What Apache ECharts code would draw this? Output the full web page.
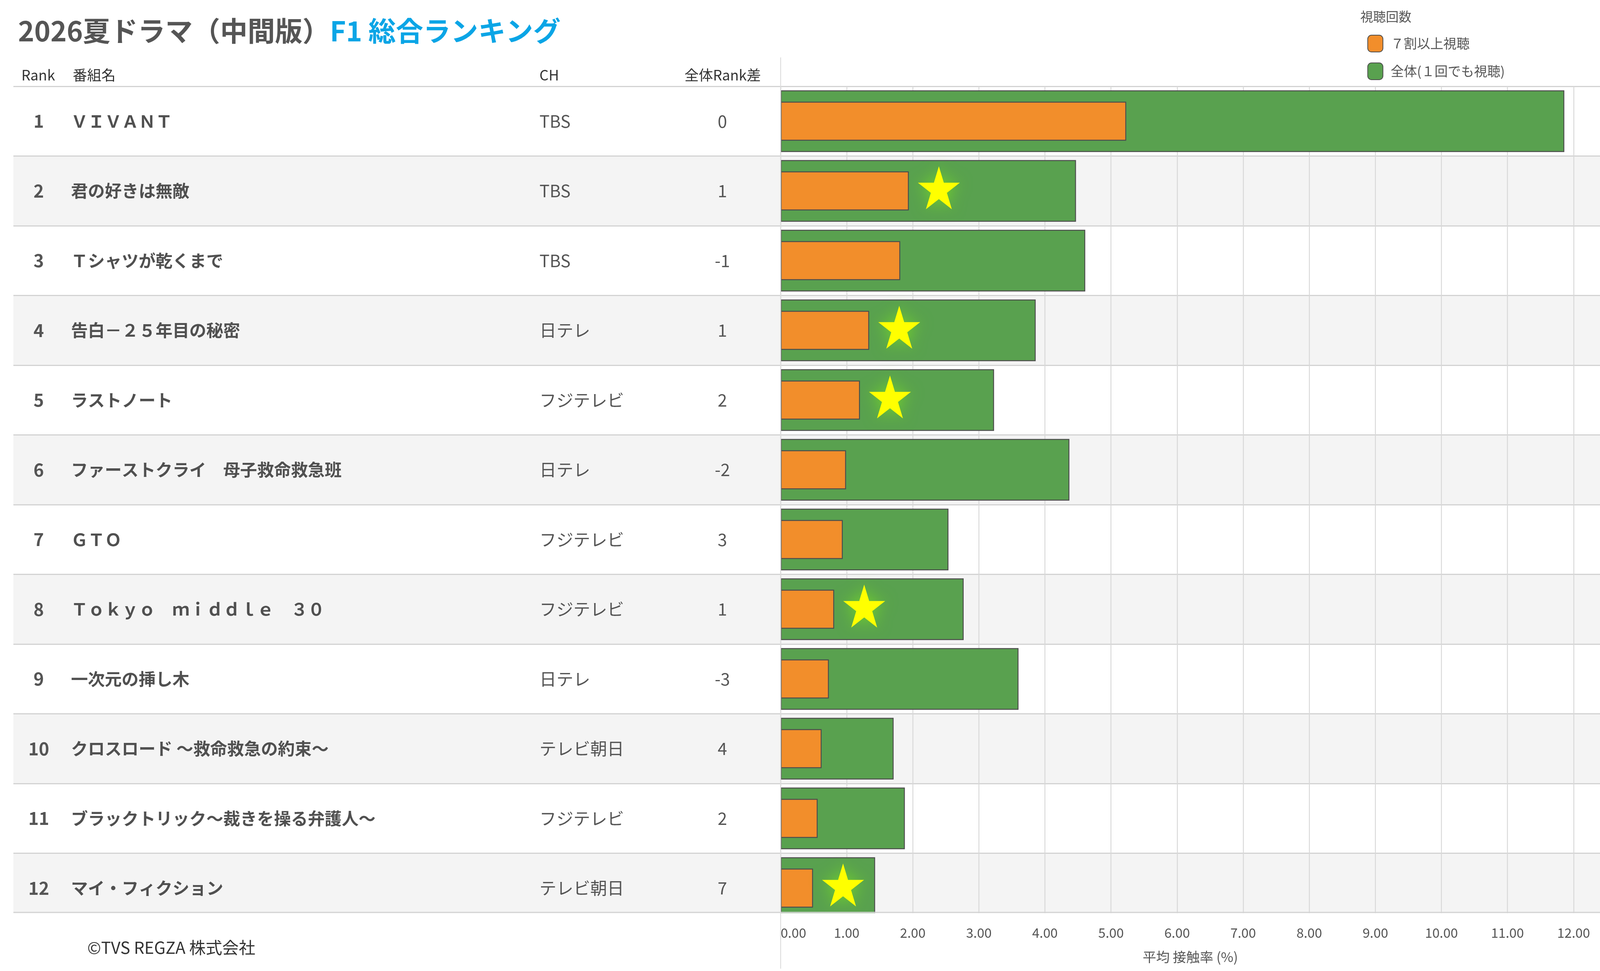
<!DOCTYPE html>
<html>
<head>
<meta charset="utf-8">
<script src="https://cdn.jsdelivr.net/npm/echarts@6/dist/echarts.min.js"></script>
<style>
html,body{margin:0;padding:0;background:#fff;overflow:hidden;}
#chart{width:100vw;height:100vh;}
</style>
</head>
<body>
<div id="chart"></div>
<script>
const ranks = ['1','2','3','4','5','6','7','8','9','10','11','12'];
const programs = ['ＶＩＶＡＮＴ','君の好きは無敵','Ｔシャツが乾くまで','告白－２５年目の秘密','ラストノート','ファーストクライ　母子救命救急班','ＧＴＯ','Ｔｏｋｙｏ　ｍｉｄｄｌｅ　３０','一次元の挿し木','クロスロード ～救命救急の約束～','ブラックトリック～裁きを操る弁護人～','マイ・フィクション'];
const channels = ['TBS','TBS','TBS','日テレ','フジテレビ','日テレ','フジテレビ','フジテレビ','日テレ','テレビ朝日','フジテレビ','テレビ朝日'];
const rankDiff = ['0','1','-1','1','2','-2','3','1','-3','4','2','7'];
const over70 = [5.23,1.94,1.81,1.34,1.20,0.99,0.94,0.81,0.73,0.62,0.56,0.49];
const total = [11.86,4.47,4.61,3.86,3.23,4.37,2.54,2.77,3.60,1.71,1.88,1.43];
const starFlags = [0,1,0,1,1,0,0,1,0,0,0,1];
const xMax = 12.4;
const seriesNames = ['７割以上視聴','全体(１回でも視聴)'];

const FONT = "'Noto Sans CJK JP', 'Noto Sans', sans-serif";
const starPath = 'path://M50,0 L61.23,34.55 L97.55,34.55 L68.17,55.9 L79.39,90.45 L50,69.1 L20.61,90.45 L31.83,55.9 L2.45,34.55 L38.77,34.55 Z';

const starData = [];
starFlags.forEach((f, i) => { if (f) starData.push([over70[i], i]); });

// layout designed on a 4419x2486 canvas, mapped onto the real viewport
const W0 = 4419, H0 = 2486;
const el = document.getElementById('chart');
const sx = el.clientWidth / W0, sy = el.clientHeight / H0;
const sf = Math.sqrt(sx * sy);
const X = v => v * sx, Y = v => v * sy, F = v => v * sf;
const font = (size, weight) => (weight ? weight + ' ' : '') + F(size) + 'px ' + FONT;

const gridTop = 221, gridHeight = 2142, tableLeft = 37, axisX = 2156;
const sepColor = '#d3d3d3';

function tableAxis(data, margin, align, size, weight, color) {
  return {
    type: 'category', gridIndex: 0, inverse: true, data: data, position: 'left',
    axisLine: {show: false}, axisTick: {show: false},
    splitLine: {show: false}, splitArea: {show: false},
    axisLabel: {inside: true, margin: X(margin), align: align, fontFamily: FONT, fontSize: F(size), fontWeight: weight || 'normal', color: color || '#555'}
  };
}

const yRank = tableAxis(ranks, 70, 'center', 47, 'bold', '#555');
yRank.splitLine = {show: true, lineStyle: {color: sepColor, width: Y(3)}};
yRank.splitArea = {show: true, areaStyle: {color: ['#ffffff', '#f4f4f4']}};

const chart = echarts.init(el, null, {renderer: 'canvas'});
chart.setOption({
  animation: false,
  backgroundColor: '#ffffff',
  textStyle: {fontFamily: FONT},
  title: {
    left: X(50), top: Y(33), padding: 0,
    text: '{a|2026夏ドラマ（中間版）}{b|F1 総合ランキング}',
    textStyle: {
      rich: {
        a: {fontFamily: FONT, fontSize: F(73), fontWeight: 'bold', color: '#555555', lineHeight: Y(92)},
        b: {fontFamily: FONT, fontSize: F(73), fontWeight: 'bold', color: '#0AA5E6', lineHeight: Y(92)}
      }
    }
  },
  legend: {
    data: seriesNames,
    orient: 'vertical', left: X(3771), top: Y(84),
    itemWidth: X(42), itemHeight: Y(43), itemGap: Y(26),
    textStyle: {fontFamily: FONT, fontSize: F(35), color: '#555', padding: [0, 0, 0, X(16)]},
    selectedMode: false
  },
  grid: [
    {left: X(tableLeft), top: Y(gridTop), width: X(axisX - tableLeft), height: Y(gridHeight)},
    {left: X(axisX), top: Y(gridTop), right: 0, height: Y(gridHeight)}
  ],
  xAxis: [
    {type: 'value', gridIndex: 0, min: 0, max: 1, show: false},
    {
      type: 'value', gridIndex: 1, min: 0, max: xMax, interval: 1,
      axisLine: {show: false}, axisTick: {show: false},
      splitLine: {show: true, showMaxLine: false, lineStyle: {color: '#d8d8d8', width: X(2.5)}},
      axisLabel: {
        margin: Y(8), fontFamily: FONT, fontSize: F(35), color: '#555',
        showMaxLabel: false, alignMinLabel: 'left',
        formatter: v => v.toFixed(2)
      },
      name: '平均 接触率 (%)', nameLocation: 'middle', nameGap: Y(70),
      nameTextStyle: {fontFamily: FONT, fontSize: F(36), color: '#555'}
    }
  ],
  yAxis: [
    yRank,
    tableAxis(programs, 159, 'left', 45, 'bold', '#505050'),
    tableAxis(channels, 1453, 'left', 45),
    tableAxis(rankDiff, 1958, 'center', 45),
    {
      type: 'category', gridIndex: 1, inverse: true, data: ranks,
      axisLine: {show: false}, axisTick: {show: false}, axisLabel: {show: false},
      splitLine: {show: true, lineStyle: {color: sepColor, width: Y(3)}},
      splitArea: {show: true, areaStyle: {color: ['#ffffff', '#f4f4f4']}}
    },
    {type: 'category', gridIndex: 1, inverse: true, data: ranks, show: false}
  ],
  series: [
    {
      name: seriesNames[1], type: 'bar', xAxisIndex: 1, yAxisIndex: 4,
      data: total, barWidth: Y(158),
      itemStyle: {color: '#59A14F', borderColor: '#4d4d4d', borderWidth: F(2.5)}
    },
    {
      name: seriesNames[0], type: 'bar', xAxisIndex: 1, yAxisIndex: 5,
      data: over70, barWidth: Y(100),
      itemStyle: {color: '#F28E2B', borderColor: '#4d4d4d', borderWidth: F(2.5)}
    },
    {
      name: 'star', type: 'scatter', xAxisIndex: 1, yAxisIndex: 5,
      data: starData, symbol: starPath, symbolSize: [X(116), Y(110)], symbolOffset: [X(83), Y(-8)],
      itemStyle: {color: '#FFFF00', opacity: 1, shadowBlur: F(40), shadowColor: 'rgba(115,215,40,0.9)'},
      silent: true, z: 5
    }
  ],
  graphic: [
    {type: 'rect', z: 100, shape: {x: 0, y: Y(2338), width: X(W0), height: Y(28)}, style: {fill: '#ffffff'}},
    {type: 'line', z: 101, shape: {x1: X(tableLeft), y1: Y(2336), x2: X(W0), y2: Y(2336)}, style: {stroke: sepColor, lineWidth: Y(3)}},
    {type: 'line', z: 102, shape: {x1: X(axisX), y1: Y(147), x2: X(axisX), y2: Y(2480)}, style: {stroke: '#dcdcdc', lineWidth: X(2.5)}},
    {type: 'text', z: 103, x: X(59), y: Y(192), style: {text: 'Rank', font: font(38), fill: '#333', align: 'left', verticalAlign: 'middle'}},
    {type: 'text', z: 103, x: X(201), y: Y(192), style: {text: '番組名', font: font(38), fill: '#333', align: 'left', verticalAlign: 'middle'}},
    {type: 'text', z: 103, x: X(1490), y: Y(192), style: {text: 'CH', font: font(38), fill: '#333', align: 'left', verticalAlign: 'middle'}},
    {type: 'text', z: 103, x: X(1996), y: Y(192), style: {text: '全体Rank差', font: font(38), fill: '#333', align: 'center', verticalAlign: 'middle'}},
    {type: 'text', z: 103, x: X(3757), y: Y(43), style: {text: '視聴回数', font: font(34), fill: '#555', align: 'left', verticalAlign: 'middle'}},
    {type: 'text', z: 103, x: X(241), y: Y(2426), style: {text: '©TVS REGZA 株式会社', font: font(44), fill: '#333', align: 'left', verticalAlign: 'middle'}}
  ]
});
</script>
</body>
</html>
